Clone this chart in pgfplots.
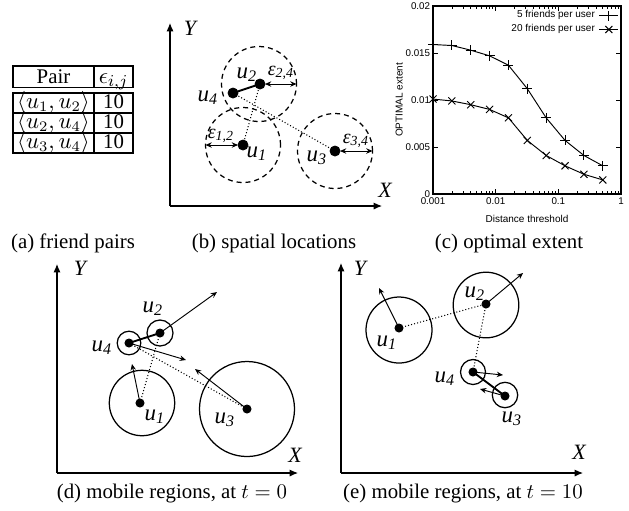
\documentclass[border=0pt]{standalone}
\usepackage[no-math]{fontspec}
\setmainfont{Liberation Serif}
\newfontfamily\helv{Liberation Sans}
\usepackage{pgfplots}
\pgfplotsset{compat=1.18}
\usetikzlibrary{arrows.meta}
\newcommand{\capf}{\fontsize{10}{12}\selectfont}
\newcommand{\lab}[2]{{\fontsize{11}{13}\selectfont\itshape #1\textsubscript{#2}}}
\newcommand{\eps}[1]{{\fontsize{9.5}{11}\selectfont\itshape ε\textsubscript{#1}}}
\newcommand{\ax}[1]{{\fontsize{10.5}{12}\selectfont\itshape #1}}
\pgfplotsset{
  diag/.style={x=0.48pt, y=0.48pt, anchor=south west,
    axis lines=left,
    axis line style={line width=0.5pt, -{Latex[length=4pt,width=3.4pt]}},
    xtick=\empty, ytick=\empty, enlargelimits=false, clip=false},
  vel/.style={line width=0.45pt, -{Stealth[length=3pt,width=2.6pt]}},
  dots/.style={only marks, mark=*, mark size=#1},
  ring/.style={only marks, mark=o, mark size=#1, mark options={line width=0.6pt}},
  dring/.style={only marks, mark=o, mark size=#1, mark options={line width=0.6pt, dash pattern=on 2.4pt off 1.9pt}},
}
\begin{document}
\begin{tikzpicture}
\useasboundingbox (0pt,0pt) rectangle (301.92pt,-244.8pt);
% ---------- (a) table and captions ----------
\begin{scope}[x=0.48pt,y=-0.48pt, line width=0.5pt]
  \draw (13,66) rectangle (133,87.5); \draw (94,66) -- (94,87.5);
  \draw (13,93) rectangle (133,153); \draw (94,93) -- (94,153);
  \draw (13,113) -- (133,113); \draw (13,133) -- (133,133);
  \node[anchor=base, inner sep=0pt] at (53.5,83.5) {\capf Pair};
  \node[anchor=base, inner sep=0pt] at (113.5,83) {\fontsize{11}{13}\selectfont $\epsilon_{i,j}$};
  \node[anchor=base, inner sep=0pt] at (53.5,108) {\fontsize{10.5}{13}\selectfont $\langle u_1,u_2\rangle$};
  \node[anchor=base, inner sep=0pt] at (53.5,128) {\fontsize{10.5}{13}\selectfont $\langle u_2,u_4\rangle$};
  \node[anchor=base, inner sep=0pt] at (53.5,148) {\fontsize{10.5}{13}\selectfont $\langle u_3,u_4\rangle$};
  \node[anchor=base, inner sep=0pt] at (113.5,108.5) {\capf 10};
  \node[anchor=base, inner sep=0pt] at (113.5,128.5) {\capf 10};
  \node[anchor=base, inner sep=0pt] at (113.5,148.5) {\capf 10};
  \node[anchor=base] at (73,248) {\capf (a) friend pairs};
  \node[anchor=base] at (274,248) {\capf (b) spatial locations};
  \node[anchor=base] at (509,248) {\capf (c) optimal extent};
  \node[anchor=base] at (172,498) {\capf (d) mobile regions, at $t=0$};
  \node[anchor=base] at (463,498) {\capf (e) mobile regions, at $t=10$};
\end{scope}
% ---------- (b) spatial locations ----------
\begin{axis}[diag, at={(81.6pt,-98.88pt)}, xmin=170, xmax=382, ymin=-206, ymax=-23]
  \addplot[dring=18pt] coordinates {(259,-84) (243,-145) (335,-151)};
  \addplot[line width=0.9pt] coordinates {(233,-93) (260,-84)};
  \addplot[densely dotted, line width=0.5pt] coordinates {(260,-84) (243,-145)};
  \addplot[densely dotted, line width=0.5pt] coordinates {(233,-93) (335,-151)};
  \addplot[line width=0.45pt, {Stealth[length=3pt,width=2.6pt]}-{Stealth[length=3pt,width=2.6pt]}] coordinates {(265,-84) (296.5,-84)};
  \addplot[line width=0.45pt, {Stealth[length=3pt,width=2.6pt]}-{Stealth[length=3pt,width=2.6pt]}] coordinates {(205.5,-145) (238,-145)};
  \addplot[line width=0.45pt, {Stealth[length=3pt,width=2.6pt]}-{Stealth[length=3pt,width=2.6pt]}] coordinates {(340,-151) (372.5,-151)};
  \addplot[dots=2.4pt] coordinates {(260,-84) (233,-93) (243,-145) (335,-151)};
  \node at (axis cs:247,-75) {\lab{u}{2}};
  \node at (axis cs:208,-98) {\lab{u}{4}};
  \node at (axis cs:257,-154) {\lab{u}{1}};
  \node at (axis cs:317,-158) {\lab{u}{3}};
  \node at (axis cs:281,-73) {\eps{2,4}};
  \node at (axis cs:221,-136) {\eps{1,2}};
  \node at (axis cs:356,-141) {\eps{3,4}};
  \node at (axis cs:190,-28) {\ax{Y}};
  \node at (axis cs:385,-190) {\ax{X}};
\end{axis}
% ---------- (c) optimal extent ----------
\begin{axis}[
  at={(207.84pt,-93.12pt)}, anchor=south west,
  scale only axis, width=90.24pt, height=90.24pt,
  xmode=log, xmin=0.001, xmax=1, ymin=0, ymax=0.02,
  xtick={0.001,0.01,0.1,1}, xticklabels={0.001,0.01,0.1,1},
  ytick={0,0.005,0.01,0.015,0.02}, yticklabels={0,0.005,0.01,0.015,0.02},
  scaled y ticks=false,
  tick align=inside, major tick length=2.5pt, minor tick length=1.3pt,
  tick style={line width=0.35pt, black},
  axis line style={line width=0.5pt},
  ticklabel style={font=\helv\fontsize{4.7}{5.5}\selectfont},
  xticklabel style={inner sep=1.5pt},
  yticklabel style={inner sep=1.2pt},
  label style={font=\helv\fontsize{4.8}{5.5}\selectfont},
  xlabel={Distance threshold}, ylabel={OPTIMAL extent},
  xlabel style={at={(axis description cs:0.5,-0.13)}, anchor=center},
  ylabel style={at={(axis description cs:-0.18,0.5)}, anchor=center},
  legend style={draw=none, fill=none, at={(0.99,1.0)}, anchor=north east,
    font=\helv\fontsize{4.8}{5.5}\selectfont, inner sep=0pt, row sep=-2.4pt,
    cells={anchor=east}},
  legend plot pos=right, legend cell align=right,
  legend image code/.code={\draw[mark repeat=2,mark phase=2] plot coordinates {(0pt,0pt) (4.5pt,0pt) (9pt,0pt)};},
]
  \addplot[black, line width=0.45pt, mark=+, mark size=2.4pt] coordinates {
    (0.001,0.0159) (0.002,0.0158) (0.004,0.0153) (0.008,0.0147) (0.016,0.0137)
    (0.032,0.0112) (0.064,0.0081) (0.128,0.0057) (0.256,0.0041) (0.512,0.0030)};
  \addlegendentry{5 friends per user}
  \addplot[black, line width=0.45pt, mark=x, mark size=2.4pt] coordinates {
    (0.001,0.0101) (0.002,0.0099) (0.004,0.0095) (0.008,0.0090) (0.016,0.0081)
    (0.032,0.0057) (0.064,0.0041) (0.128,0.0030) (0.256,0.0021) (0.512,0.0015)};
  \addlegendentry{20 friends per user}
\end{axis}
% ---------- (d) mobile regions t=0 ----------
\begin{axis}[diag, at={(27.36pt,-227.04pt)}, xmin=57, xmax=298, ymin=-473, ymax=-264]
  \addplot[ring=6.24pt] coordinates {(160,-333)};
  \addplot[ring=5.66pt] coordinates {(129,-343)};
  \addplot[ring=15.7pt] coordinates {(142,-403)};
  \addplot[ring=22.8pt] coordinates {(247,-409)};
  \addplot[line width=0.9pt] coordinates {(129,-343) (160,-333)};
  \addplot[densely dotted, line width=0.5pt] coordinates {(160,-333) (140,-403)};
  \addplot[densely dotted, line width=0.5pt] coordinates {(129,-343) (247,-409)};
  \addplot[vel] coordinates {(160,-333) (217,-292)};
  \addplot[vel] coordinates {(129,-343) (186,-360)};
  \addplot[vel] coordinates {(140,-403) (132,-364)};
  \addplot[vel] coordinates {(247,-409) (195,-369)};
  \addplot[dots=1.95pt] coordinates {(160,-333) (129,-343) (140,-403) (247,-409)};
  \node at (axis cs:153,-309) {\lab{u}{2}};
  \node at (axis cs:102,-348) {\lab{u}{4}};
  \node at (axis cs:155,-417) {\lab{u}{1}};
  \node at (axis cs:225,-420) {\lab{u}{3}};
  \node at (axis cs:80,-268) {\ax{Y}};
  \node at (axis cs:295,-455) {\ax{X}};
\end{axis}
% ---------- (e) mobile regions t=10 ----------
\begin{axis}[diag, at={(163.68pt,-227.04pt)}, xmin=341, xmax=583, ymin=-473, ymax=-263]
  \addplot[ring=15.84pt] coordinates {(399,-330)};
  \addplot[ring=15.74pt] coordinates {(486,-305)};
  \addplot[ring=6pt] coordinates {(473,-372)};
  \addplot[ring=6.1pt] coordinates {(505,-395)};
  \addplot[densely dotted, line width=0.5pt] coordinates {(399,-328) (486,-304)};
  \addplot[densely dotted, line width=0.5pt] coordinates {(486,-304) (473,-372)};
  \addplot[line width=0.9pt] coordinates {(473,-372) (505,-396)};
  \addplot[vel] coordinates {(399,-328) (379,-288)};
  \addplot[vel] coordinates {(486,-304) (523,-273)};
  \addplot[vel] coordinates {(473,-372) (503,-375)};
  \addplot[vel] coordinates {(505,-396) (480,-389)};
  \addplot[dots=1.95pt] coordinates {(399,-328) (486,-304) (473,-372) (505,-396)};
  \node at (axis cs:475,-294) {\lab{u}{2}};
  \node at (axis cs:387,-343) {\lab{u}{1}};
  \node at (axis cs:445,-379) {\lab{u}{4}};
  \node at (axis cs:512,-419) {\lab{u}{3}};
  \node at (axis cs:360,-268) {\ax{Y}};
  \node at (axis cs:579,-452) {\ax{X}};
\end{axis}
\end{tikzpicture}
\end{document}
